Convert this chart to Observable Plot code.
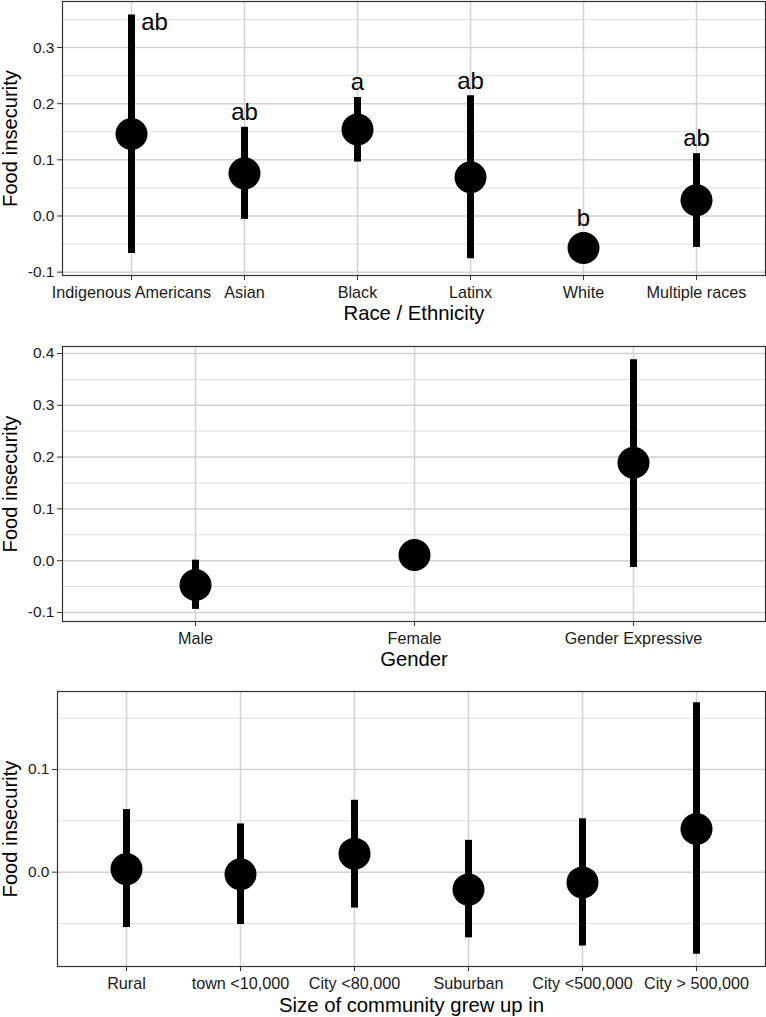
<!DOCTYPE html>
<html><head><meta charset="utf-8">
<script src="https://cdn.jsdelivr.net/npm/d3@7"></script>
<script src="https://cdn.jsdelivr.net/npm/@observablehq/plot@0.6"></script>
<style>
body{margin:0;background:#fff;width:766px;height:1017px;position:relative;overflow:hidden;font-family:"Liberation Sans",Arial,Helvetica,sans-serif}
.panel{position:absolute;left:0}
</style></head><body>
<div id="p1" class="panel" style="top:0"></div>
<div id="p2" class="panel" style="top:330px"></div>
<div id="p3" class="panel" style="top:675px"></div>
<script>
// ---- Panel 1: Race / Ethnicity ----
const raceCategories = ["Indigenous Americans", "Asian", "Black", "Latinx", "White", "Multiple races"];
const raceEstimate = [0.146, 0.076, 0.154, 0.069, -0.057, 0.028];
const raceLower    = [-0.067, -0.006, 0.096, -0.076, -0.084, -0.056];
const raceUpper    = [0.358, 0.158, 0.211, 0.214, -0.030, 0.111];
const raceLetters  = ["ab", "ab", "a", "ab", "b", "ab"];
const raceTicks    = [-0.1, 0.0, 0.1, 0.2, 0.3];
const raceMinor    = [-0.05, 0.05, 0.15, 0.25, 0.35];

// ---- Panel 2: Gender ----
const genderCategories = ["Male", "Female", "Gender Expressive"];
const genderEstimate = [-0.047, 0.011, 0.189];
const genderLower    = [-0.094, -0.015, -0.013];
const genderUpper    = [0.001, 0.037, 0.388];
const genderTicks    = [-0.1, 0.0, 0.1, 0.2, 0.3, 0.4];
const genderMinor    = [-0.05, 0.05, 0.15, 0.25, 0.35];

// ---- Panel 3: Size of community ----
const communityCategories = ["Rural", "town <10,000", "City <80,000", "Suburban", "City <500,000", "City > 500,000"];
const communityEstimate = [0.003, -0.002, 0.018, -0.017, -0.010, 0.042];
const communityLower    = [-0.054, -0.051, -0.035, -0.064, -0.072, -0.080];
const communityUpper    = [0.061, 0.047, 0.070, 0.031, 0.052, 0.165];
const communityTicks    = [0.0, 0.1];
const communityMinor    = [-0.05, 0.05, 0.15];

const FONT = '"Liberation Sans", Arial, Helvetica, sans-serif';

function panel(o) {
  const data = o.cats.map((c, i) => ({
    cat: c, est: o.est[i], lo: o.lo[i], hi: o.hi[i],
    letter: o.letters ? o.letters[i] : null
  }));
  const ymax = o.domain[1];
  const inside = data.filter(d => d.letter && d.hi + 0.03 < ymax);
  const beside = data.filter(d => d.letter && d.hi + 0.03 >= ymax);
  const marks = [
    Plot.ruleY(o.minor, {stroke: "#e0e0e0", strokeWidth: 1}),
    Plot.ruleY(o.ticks, {stroke: "#d2d2d2", strokeWidth: 1.5}),
    Plot.ruleX(o.cats, {stroke: "#d2d2d2", strokeWidth: 1.5}),
    Plot.ruleX(data, {x: "cat", y1: "lo", y2: "hi", stroke: "black", strokeWidth: 7}),
    Plot.dot(data, {x: "cat", y: "est", r: 16, fill: "black", stroke: null}),
    Plot.text(inside, {x: "cat", y: "hi", text: "letter", dy: -15, fontSize: 24, fill: "black"}),
    Plot.text(beside, {x: "cat", y: "hi", text: "letter", dx: 23, dy: 7, fontSize: 24, fill: "black"}),
    Plot.frame({stroke: "#333", strokeWidth: 1.2}),
    Plot.axisX({tickSize: 5, tickPadding: 6, fontSize: 16.2, label: null, stroke: "#333"}),
    Plot.axisY({ticks: o.ticks, tickFormat: d => d.toFixed(1), tickSize: 5, tickPadding: 3, fontSize: 15.5, label: null, stroke: "#333"}),
    Plot.text([o.title], {frameAnchor: "bottom", text: d => d, dy: o.titleDy, lineAnchor: "middle", textAnchor: "middle", fontSize: 20.3, fill: "black"}),
    Plot.text(["Food insecurity"], {frameAnchor: "left", text: d => d, rotate: -90, dx: o.yTitleDx, lineAnchor: "middle", textAnchor: "middle", fontSize: 20.2, fill: "black"})
  ];
  return Plot.plot({
    width: 766,
    height: o.height,
    marginTop: o.marginTop,
    marginBottom: o.marginBottom,
    marginLeft: o.marginLeft,
    marginRight: 1,
    style: {fontFamily: FONT, fontSize: "15.5px", color: "#1a1a1a", background: "white", overflow: "visible"},
    x: {type: "point", domain: o.cats, padding: 0.6, axis: null},
    y: {domain: o.domain, axis: null},
    marks
  });
}

document.getElementById("p1").appendChild(panel({
  cats: raceCategories, est: raceEstimate, lo: raceLower, hi: raceUpper, letters: raceLetters,
  ticks: raceTicks, minor: raceMinor, domain: [-0.106, 0.382],
  title: "Race / Ethnicity", titleDy: 38,
  height: 330, marginTop: 1, marginBottom: 55, marginLeft: 62, yTitleDx: -52
}));
document.getElementById("p2").appendChild(panel({
  cats: genderCategories, est: genderEstimate, lo: genderLower, hi: genderUpper, letters: null,
  ticks: genderTicks, minor: genderMinor, domain: [-0.1174, 0.4135],
  title: "Gender", titleDy: 38,
  height: 345, marginTop: 16, marginBottom: 54, marginLeft: 62, yTitleDx: -52
}));
document.getElementById("p3").appendChild(panel({
  cats: communityCategories, est: communityEstimate, lo: communityLower, hi: communityUpper, letters: null,
  ticks: communityTicks, minor: communityMinor, domain: [-0.0919, 0.176],
  title: "Size of community grew up in", titleDy: 39,
  height: 342, marginTop: 16, marginBottom: 51, marginLeft: 57, yTitleDx: -47
}));
</script>
</body></html>
